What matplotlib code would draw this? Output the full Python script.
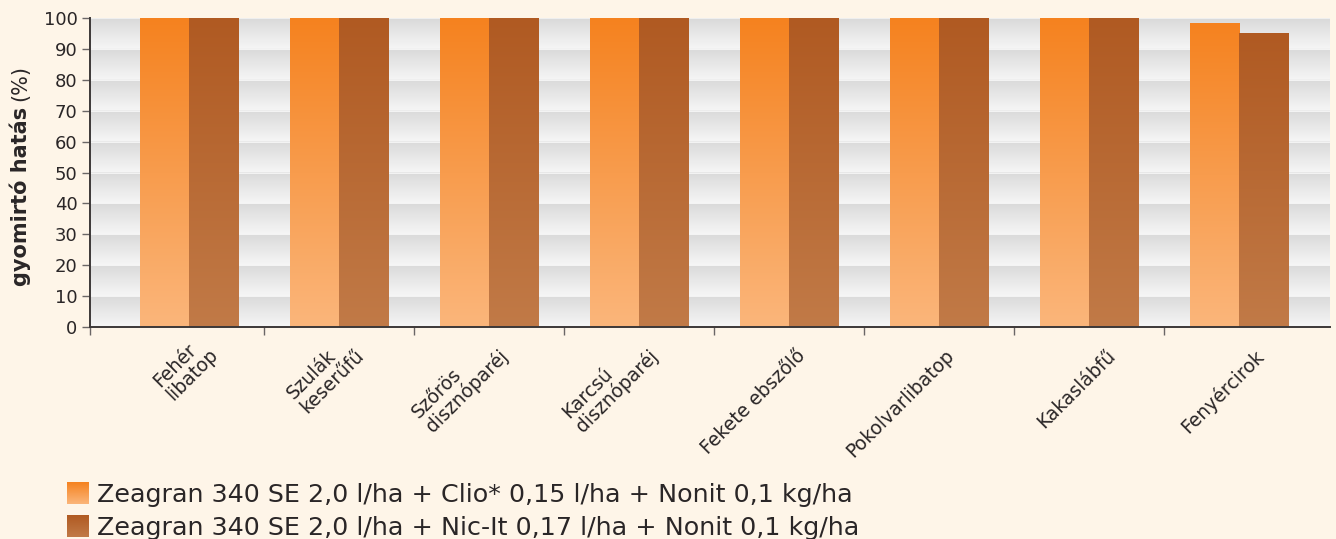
import matplotlib
matplotlib.use("Agg")
import matplotlib.pyplot as plt
import numpy as np
from matplotlib.colors import LinearSegmentedColormap
from matplotlib.transforms import ScaledTranslation

categories = ["Fehér\nlibatop", "Szulák\nkeserűfű", "Szőrös\ndisznóparéj", "Karcsú\ndisznóparéj",
              "Fekete ebszőlő", "Pokolvarlibatop", "Kakaslábfű", "Fenyércirok"]
clio = [100, 100, 100, 100, 100, 100, 100, 98.5]
nicit = [100, 100, 100, 100, 100, 100, 100, 95]
series_names = ["Zeagran 340 SE 2,0 l/ha + Clio* 0,15 l/ha + Nonit 0,1 kg/ha",
                "Zeagran 340 SE 2,0 l/ha + Nic-It 0,17 l/ha + Nonit 0,1 kg/ha"]
yticks = list(range(0, 101, 10))

bg = "#FEF5E8"
txt = "#2A2627"
orange = LinearSegmentedColormap.from_list("o", ["#FBB67B", "#F5821F"])
brown = LinearSegmentedColormap.from_list("b", ["#C17A47", "#B05A22"])
band = LinearSegmentedColormap.from_list("g", ["#F6F6F6", "#DADADA"])

plt.rcParams["font.family"] = ["DejaVu Sans"]

fig = plt.figure(figsize=(13.36, 5.39), dpi=100, facecolor=bg)
ax = fig.add_axes([90 / 1336, 1 - 327 / 539, 1240 / 1336, 309 / 539])
ax.set_facecolor(bg)

xmin, xmax = -0.66, 7.607

# banded grey gradient background
rows = np.linspace(0, 1, 400)
saw = (rows * 10) % 1.0
ax.imshow(saw[:, None], cmap=band, aspect="auto", origin="lower",
          extent=[xmin, xmax, 0, 100], zorder=0, interpolation="bilinear")
for y in yticks[1:-1]:
    ax.axhline(y, color="#F8F8F8", lw=0.6, zorder=0.5)

x = np.arange(len(categories))
w = 0.327
grad = np.linspace(0, 1, 256)[:, None]
for vals, cmap, off in [(clio, orange, -w / 2), (nicit, brown, w / 2)]:
    bars = ax.bar(x + off, vals, w, color="none", edgecolor="none", zorder=2)
    for b in bars:
        x0, y0 = b.get_x(), b.get_y()
        im = ax.imshow(grad, cmap=cmap, aspect="auto", origin="lower",
                       extent=[x0, x0 + b.get_width(), y0, y0 + b.get_height()],
                       zorder=2, interpolation="bilinear")
        im.set_clip_path(b)

ax.set_xlim(xmin, xmax)
ax.set_ylim(0, 100)

for s in ["top", "right"]:
    ax.spines[s].set_visible(False)
for s in ["left", "bottom"]:
    ax.spines[s].set_color("#3C3838")
    ax.spines[s].set_linewidth(1.4)
    ax.spines[s].set_zorder(3)

ax.set_yticks(yticks)
ax.set_yticklabels([str(v) for v in yticks], fontsize=13, color=txt)
ax.tick_params(axis="y", length=6, width=1, color="#6A6666", pad=3)
ax.set_xticks([xmin] + list(x[:-1] + 0.5))
ax.set_xticklabels([])
ax.tick_params(axis="x", length=6, width=1, color="#6A6666")

# rotated category labels, shifted like the original (longer text sits further left)
renderer = fig.canvas.get_renderer()
for i, lab in enumerate(categories):
    lines = lab.split("\n")
    tmp = fig.text(0, 0, max(lines, key=len), fontsize=13.5)
    wpx = tmp.get_window_extent(renderer).width
    tmp.remove()
    n = len(lines) - 1
    dx = 43 - 0.26 * wpx - 20 * n
    dy = 19 - 14 * n
    off = ScaledTranslation(dx / 100, -dy / 100, fig.dpi_scale_trans)
    ax.text(x[i], 0, lab, rotation=45, rotation_mode="anchor", ha="right", va="top",
            multialignment="left", fontsize=13.5, color=txt, linespacing=1.0,
            transform=ax.transData + off)

# y label: bold part + regular (%)
t1 = fig.text(20 / 1336, 1 - 286 / 539, "gyomirtó hatás", rotation=90, ha="center", va="bottom",
              fontsize=15, fontweight="bold", color=txt)
bb = t1.get_window_extent(renderer)
fig.text(20 / 1336, (bb.y1 + 6) / 539, "(%)", rotation=90, ha="center", va="bottom",
         fontsize=15, color=txt)

# legend with gradient swatches
for k, (name, cmap) in enumerate([(series_names[0], orange), (series_names[1], brown)]):
    top = 482 + 33 * k
    sw = fig.add_axes([67 / 1336, 1 - (top + 22) / 539, 22 / 1336, 22 / 539])
    sw.imshow(grad, cmap=cmap, aspect="auto", origin="lower")
    sw.set_axis_off()
    fig.text(97 / 1336, 1 - (top + 20) / 539, name, ha="left", va="baseline",
             fontsize=18.3, color=txt)

fig.savefig("out.png", dpi=100, facecolor=bg)
